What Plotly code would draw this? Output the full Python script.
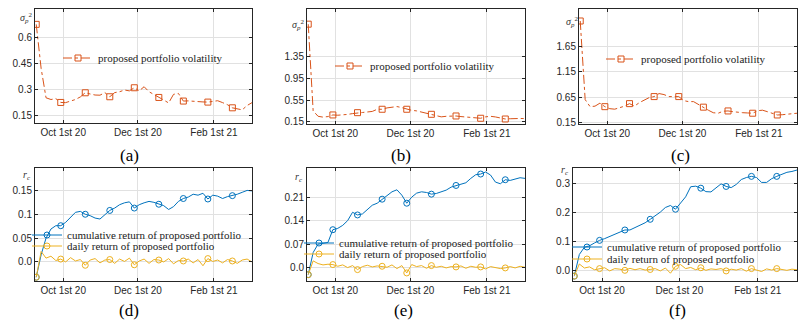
import pandas as pd
import plotly.graph_objects as go

# sample dates (every 4 calendar days)
dates = pd.date_range("2020-09-09", periods=45, freq="4D")

x_tick_vals = ["2020-10-01", "2020-12-01", "2021-02-01"]
x_tick_text = ["Oct 1st 20", "Dec 1st 20", "Feb 1st 21"]

# volatility, panels (a) (b) (c)
vol_a = [0.675, 0.42, 0.25, 0.24, 0.245, 0.223, 0.222, 0.23, 0.24, 0.255,
         0.279, 0.272, 0.266, 0.265, 0.28, 0.256, 0.28, 0.285, 0.295, 0.29,
         0.308, 0.29, 0.314, 0.285, 0.27, 0.252, 0.237, 0.22, 0.27, 0.275,
         0.231, 0.232, 0.229, 0.227, 0.226, 0.225, 0.23, 0.233, 0.222, 0.21,
         0.192, 0.185, 0.18, 0.205, 0.222]
vol_b = [1.95, 0.35, 0.25, 0.235, 0.245, 0.275, 0.27, 0.275, 0.285, 0.3,
         0.317, 0.32, 0.33, 0.34, 0.38, 0.38, 0.405, 0.42, 0.43, 0.41,
         0.38, 0.36, 0.35, 0.33, 0.31, 0.287, 0.26, 0.24, 0.25, 0.255,
         0.256, 0.245, 0.235, 0.228, 0.22, 0.214, 0.24, 0.25, 0.238, 0.215,
         0.2, 0.205, 0.214, 0.21, 0.208]
vol_c = [2.16, 0.6, 0.46, 0.47, 0.53, 0.46, 0.42, 0.41, 0.44, 0.47,
         0.52, 0.47, 0.54, 0.59, 0.64, 0.66, 0.72, 0.7, 0.66, 0.66,
         0.66, 0.58, 0.56, 0.56, 0.5, 0.45, 0.39, 0.34, 0.33, 0.37,
         0.375, 0.36, 0.345, 0.34, 0.335, 0.33, 0.38, 0.39, 0.36, 0.33,
         0.295, 0.3, 0.31, 0.32, 0.33]

# returns, panels (d) (e) (f)
cum_d = [-0.032, 0.015, 0.05, 0.069, 0.076, 0.076, 0.083, 0.093, 0.104, 0.106,
         0.1, 0.097, 0.092, 0.09, 0.1, 0.108, 0.113, 0.12, 0.124, 0.126,
         0.113, 0.12, 0.124, 0.127, 0.125, 0.121, 0.118, 0.11, 0.116, 0.127,
         0.133, 0.136, 0.142, 0.14, 0.144, 0.132, 0.14, 0.138, 0.133, 0.137,
         0.139, 0.142, 0.146, 0.15, 0.149]
daily_d = [-0.032, 0.022, 0.008, 0.012, 0.003, 0.006, 0.0, 0.009, 0.002, 0.005,
           -0.007, 0.004, 0.007, -0.002, 0.004, 0.005, -0.003, 0.006, 0.001, 0.008,
           -0.006, 0.002, 0.006, -0.003, 0.005, 0.004, 0.0, 0.007, -0.004, 0.003,
           0.002, 0.006, -0.002, 0.005, -0.008, 0.007, 0.001, 0.004, -0.002, 0.005,
           0.002, -0.003, 0.004, 0.006, 0.0]
cum_e = [-0.021, 0.045, 0.07, 0.073, 0.075, 0.113, 0.117, 0.126, 0.14, 0.165,
         0.157, 0.16, 0.172, 0.186, 0.192, 0.204, 0.214, 0.226, 0.232, 0.216,
         0.192, 0.21, 0.222, 0.226, 0.224, 0.219, 0.221, 0.225, 0.231, 0.24,
         0.245, 0.249, 0.253, 0.266, 0.277, 0.279, 0.285, 0.276, 0.255, 0.25,
         0.262, 0.26, 0.265, 0.268, 0.266]
daily_e = [-0.021, 0.02, 0.012, 0.008, 0.01, 0.009, 0.004, 0.008, 0.0, 0.006,
           -0.006, 0.003, 0.007, 0.002, 0.005, 0.004, 0.001, 0.008, -0.003, 0.006,
           -0.016, 0.009, 0.003, 0.006, -0.002, 0.006, 0.001, 0.004, -0.001, 0.003,
           0.002, 0.005, -0.002, 0.004, 0.001, 0.002, -0.004, 0.003, 0.001, -0.003,
           -0.001, 0.003, -0.001, 0.004, 0.001]
cum_f = [-0.02, 0.055, 0.08, 0.085, 0.095, 0.104, 0.11, 0.117, 0.125, 0.132,
         0.14, 0.14, 0.148, 0.158, 0.165, 0.177, 0.188, 0.202, 0.218, 0.225,
         0.212, 0.235, 0.255, 0.29, 0.292, 0.285, 0.273, 0.272, 0.285, 0.3,
         0.291, 0.287, 0.298, 0.315, 0.322, 0.326, 0.322, 0.305, 0.305, 0.318,
         0.326, 0.333, 0.34, 0.343, 0.348]
daily_f = [-0.02, 0.022, 0.008, 0.012, 0.002, 0.006, 0.009, -0.002, 0.006, 0.004,
           0.0, 0.007, 0.002, 0.006, 0.001, 0.003, 0.006, -0.002, 0.008, -0.01,
           0.014, 0.02, 0.006, 0.01, 0.002, 0.009, 0.0, 0.005, 0.003, 0.006,
           -0.002, 0.004, 0.001, 0.006, -0.003, 0.006, 0.002, -0.004, 0.005, 0.001,
           0.006, 0.003, 0.0, 0.004, 0.002]

# y ticks of each panel
yticks_a = [0.15, 0.3, 0.45, 0.6]
yticks_b = [0.15, 0.55, 0.95, 1.35]
yticks_c = [0.15, 0.65, 1.15, 1.65]
yticks_d = [0.0, 0.05, 0.1, 0.15]
yticks_e = [0.0, 0.07, 0.14, 0.21]
yticks_f = [0.0, 0.1, 0.2, 0.3]
ytext_a = ["0.15", "0.3", "0.45", "0.6"]
ytext_b = ["0.15", "0.55", "0.95", "1.35"]
ytext_c = ["0.15", "0.65", "1.15", "1.65"]
ytext_d = ["0.0", "0.05", "0.1", "0.15"]
ytext_e = ["0.0", "0.07", "0.14", "0.21"]
ytext_f = ["0.0", "0.1", "0.2", "0.3"]

ORANGE = "#D95319"
BLUE = "#0072BD"
YELLOW = "#EDB120"
W, H = 808, 324
SERIF = "Liberation Serif, Times New Roman, serif"
SANS = "Liberation Sans, Arial, sans-serif"


def px_x(v):
    return v / W


def px_y(v):
    return 1 - v / H


axis_style = dict(showline=True, linecolor="#262626", linewidth=1, mirror="allticks",
                  ticks="inside", ticklen=3, tickcolor="#262626", showgrid=True,
                  gridcolor="#e1e1e1", gridwidth=1, zeroline=False, automargin=False,
                  tickfont=dict(family=SANS, size=10, color="#262626"))

# left, right, top, bottom in pixels
panels = [
    (35, 252, 9, 123, [0.104, 0.764], yticks_a, ytext_a),
    (307, 525, 9, 124, [0.108, 2.23], yticks_b, ytext_b),
    (579, 797, 9, 124, [0.116, 2.398], yticks_c, ytext_c),
    (35, 252, 168, 281, [-0.040, 0.197], yticks_d, ytext_d),
    (307, 525, 168, 281, [-0.040, 0.297], yticks_e, ytext_e),
    (573, 797, 168, 281, [-0.037, 0.355], yticks_f, ytext_f),
]

fig = go.Figure()
for i, (l, r, t, b, yr, yt, ytx) in enumerate(panels, start=1):
    sfx = "" if i == 1 else str(i)
    fig.update_layout({
        "xaxis" + sfx: dict(domain=[px_x(l), px_x(r)], anchor="y" + sfx,
                            range=["2020-09-08", "2021-03-04"], tickvals=x_tick_vals,
                            ticktext=x_tick_text, **axis_style),
        "yaxis" + sfx: dict(domain=[px_y(b), px_y(t)], anchor="x" + sfx, range=yr,
                            tickvals=yt, ticktext=ytx, **axis_style),
    })


def add_series(i, y, color, dash, symbol, name, legend):
    sfx = "" if i == 1 else str(i)
    xa, ya = "x" + sfx, "y" + sfx
    fig.add_trace(go.Scatter(x=dates, y=y, mode="lines", xaxis=xa, yaxis=ya,
                             line=dict(color=color, width=1, dash=dash), showlegend=False))
    fig.add_trace(go.Scatter(x=dates[::5], y=y[::5], mode="markers", xaxis=xa, yaxis=ya,
                             marker=dict(symbol=symbol, size=6, color=color, line=dict(width=1, color=color)),
                             showlegend=False))
    fig.add_trace(go.Scatter(x=[None], y=[None], mode="lines+markers", xaxis=xa, yaxis=ya,
                             name=name, legend=legend,
                             line=dict(color=color, width=1, dash=dash),
                             marker=dict(symbol=symbol, size=6, color=color, line=dict(width=1, color=color))))


add_series(1, vol_a, ORANGE, "dashdot", "square-open", "proposed portfolio volatility", "legend")
add_series(2, vol_b, ORANGE, "dashdot", "square-open", "proposed portfolio volatility", "legend2")
add_series(3, vol_c, ORANGE, "dashdot", "square-open", "proposed portfolio volatility", "legend3")
add_series(4, cum_d, BLUE, "solid", "circle-open", "cumulative return of proposed portfolio", "legend4")
add_series(4, daily_d, YELLOW, "solid", "circle-open", "daily return of proposed portfolio", "legend5")
add_series(5, cum_e, BLUE, "solid", "circle-open", "cumulative return of proposed portfolio", "legend6")
add_series(5, daily_e, YELLOW, "solid", "circle-open", "daily return of proposed portfolio", "legend7")
add_series(6, cum_f, BLUE, "solid", "circle-open", "cumulative return of proposed portfolio", "legend8")
add_series(6, daily_f, YELLOW, "solid", "circle-open", "daily return of proposed portfolio", "legend9")

# legend boxes: text start x, centre y (pixels); symbol sits in the ~45px before the text
legend_pos = [(105, 58), (377, 66), (648, 59), (74, 235), (74, 246),
              (346, 243), (346, 254), (614, 247), (614, 259)]
for j, (tx, ty) in enumerate(legend_pos, start=1):
    key = "legend" if j == 1 else "legend" + str(j)
    fig.update_layout({key: dict(x=px_x(tx - 47), y=px_y(ty), xanchor="left", yanchor="middle",
                                 bgcolor="rgba(0,0,0,0)", borderwidth=0,
                                 font=dict(family=SERIF, size=11, color="#222"))})

annotations = []
sub_labels = [("(a)", 129, 155), ("(b)", 401, 155), ("(c)", 680, 155),
              ("(d)", 129, 310), ("(e)", 403, 310), ("(f)", 677, 310)]
for txt, x, y in sub_labels:
    annotations.append(dict(text=txt, x=px_x(x), y=px_y(y), xref="paper", yref="paper",
                            xanchor="center", yanchor="middle", showarrow=False,
                            font=dict(family=SERIF, size=17, color="black")))

sigma = "<i>σ</i><sub><i>p</i></sub><sup>2</sup>"
rc = "<i>r</i><sub><i>c</i></sub>"
ylabels = [(sigma, 34, 18), (sigma, 306, 25), (sigma, 580, 22),
           (rc, 33, 175), (rc, 305, 177), (rc, 571, 170)]
for txt, x, y in ylabels:
    annotations.append(dict(text=txt, x=px_x(x), y=px_y(y), xref="paper", yref="paper",
                            xanchor="right", yanchor="middle", showarrow=False,
                            font=dict(family=SERIF, size=10, color="#333")))

fig.update_layout(width=W, height=H, margin=dict(l=0, r=0, t=0, b=0, autoexpand=False),
                  plot_bgcolor="white", paper_bgcolor="white", annotations=annotations)

# drop the default page margin so the figure sits at the window's corner
fig.write_html("out.html", config={"displayModeBar": False},
               post_script="document.body.style.margin = '0';")
